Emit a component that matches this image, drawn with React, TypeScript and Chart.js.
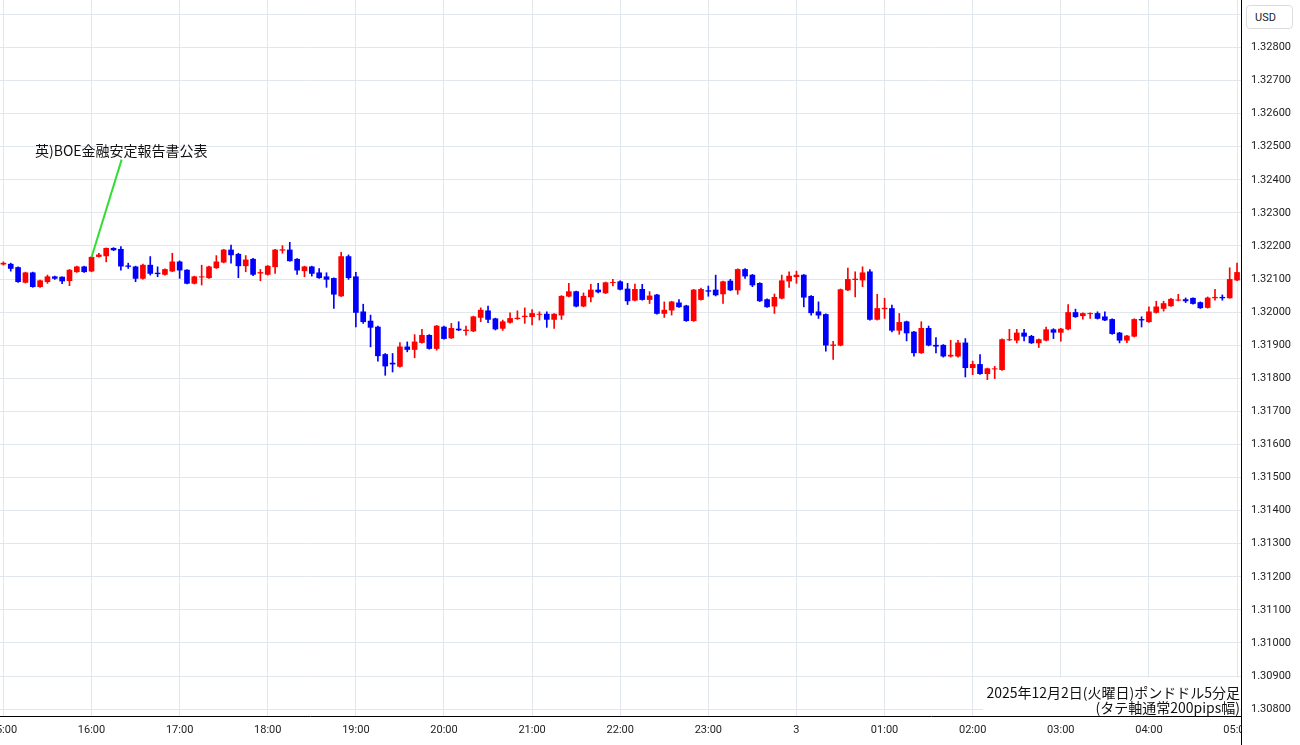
import React, { useEffect, useRef } from 'react';
import { Chart, registerables } from 'chart.js';

Chart.register(...registerables);

// GBP/USD 5-minute candles, 2025-12-02 15:00 .. 2025-12-03 05:00 (index 0 = 15:00)
const opens = [
  1.32145, 1.32145, 1.32135, 1.32090, 1.32119, 1.32077, 1.32092, 1.32107, 1.32106, 1.32095,
  1.32122, 1.32137, 1.32124, 1.32168, 1.32170, 1.32193, 1.32190, 1.32140, 1.32137, 1.32102,
  1.32142, 1.32118, 1.32114, 1.32124, 1.32152, 1.32127, 1.32087, 1.32106, 1.32104, 1.32134,
  1.32151, 1.32188, 1.32175, 1.32140, 1.32160, 1.32118, 1.32114, 1.32137, 1.32187, 1.32188,
  1.32160, 1.32125, 1.32137, 1.32119, 1.32107, 1.32102, 1.32049, 1.32168, 1.32107, 1.32001,
  1.31973, 1.31955, 1.31872, 1.31846, 1.31836, 1.31895, 1.31887, 1.31908, 1.31930, 1.31890,
  1.31955, 1.31922, 1.31949, 1.31944, 1.31943, 1.31984, 1.32004, 1.31980, 1.31951, 1.31969,
  1.31980, 1.31986, 1.31986, 1.31993, 1.31994, 1.31978, 1.31991, 1.32048, 1.32062, 1.32018,
  1.32046, 1.32067, 1.32058, 1.32089, 1.32092, 1.32070, 1.32036, 1.32069, 1.32038, 1.32052,
  1.31996, 1.32006, 1.32028, 1.32019, 1.31974, 1.32038, 1.32065, 1.32067, 1.32055, 1.32094,
  1.32067, 1.32129, 1.32112, 1.32087, 1.32038, 1.32018, 1.32042, 1.32094, 1.32107, 1.32112,
  1.32048, 1.32001, 1.31993, 1.31899, 1.31900, 1.32067, 1.32098, 1.32097, 1.32122, 1.31978,
  1.32010, 1.32011, 1.31945, 1.31971, 1.31940, 1.31877, 1.31951, 1.31900, 1.31900, 1.31867,
  1.31867, 1.31907, 1.31832, 1.31842, 1.31814, 1.31828, 1.31826, 1.31916, 1.31915, 1.31937,
  1.31927, 1.31907, 1.31915, 1.31947, 1.31939, 1.31949, 1.31999, 1.31989, 1.31995, 1.31996,
  1.31986, 1.31978, 1.31937, 1.31915, 1.31927, 1.31978, 1.31971, 1.31999, 1.32011, 1.32019,
  1.32036, 1.32038, 1.32042, 1.32029, 1.32014, 1.32043, 1.32045, 1.32043, 1.32097,
];
const highs = [
  1.32152, 1.32148, 1.32137, 1.32121, 1.32121, 1.32097, 1.32112, 1.32109, 1.32107, 1.32129,
  1.32139, 1.32139, 1.32168, 1.32178, 1.32194, 1.32195, 1.32198, 1.32148, 1.32139, 1.32145,
  1.32168, 1.32137, 1.32131, 1.32178, 1.32155, 1.32129, 1.32109, 1.32142, 1.32139, 1.32171,
  1.32190, 1.32203, 1.32178, 1.32171, 1.32163, 1.32129, 1.32141, 1.32190, 1.32201, 1.32211,
  1.32162, 1.32139, 1.32139, 1.32132, 1.32119, 1.32104, 1.32181, 1.32173, 1.32120, 1.32024,
  1.31991, 1.31958, 1.31875, 1.31875, 1.31908, 1.31910, 1.31932, 1.31948, 1.31932, 1.31960,
  1.31958, 1.31966, 1.31971, 1.31958, 1.31988, 1.32013, 1.32018, 1.31982, 1.31976, 1.31998,
  1.32004, 1.32013, 1.32008, 1.32001, 1.32001, 1.31996, 1.32050, 1.32087, 1.32064, 1.32058,
  1.32084, 1.32087, 1.32091, 1.32099, 1.32095, 1.32087, 1.32085, 1.32084, 1.32062, 1.32054,
  1.32031, 1.32033, 1.32038, 1.32021, 1.32069, 1.32073, 1.32079, 1.32112, 1.32094, 1.32099,
  1.32131, 1.32132, 1.32114, 1.32089, 1.32040, 1.32055, 1.32112, 1.32122, 1.32124, 1.32114,
  1.32050, 1.32031, 1.31995, 1.31912, 1.32070, 1.32133, 1.32122, 1.32137, 1.32129, 1.32054,
  1.32042, 1.32021, 1.31996, 1.31973, 1.31942, 1.31971, 1.31958, 1.31923, 1.31902, 1.31915,
  1.31915, 1.31920, 1.31852, 1.31872, 1.31831, 1.31836, 1.31919, 1.31948, 1.31948, 1.31948,
  1.31930, 1.31919, 1.31955, 1.31950, 1.31951, 1.32023, 1.32009, 1.31998, 1.31998, 1.32001,
  1.32001, 1.31980, 1.31939, 1.31930, 1.31980, 1.31986, 1.32016, 1.32033, 1.32033, 1.32042,
  1.32054, 1.32043, 1.32043, 1.32031, 1.32046, 1.32069, 1.32052, 1.32134, 1.32148,
];
const lows = [
  1.32142, 1.32124, 1.32090, 1.32088, 1.32075, 1.32075, 1.32087, 1.32099, 1.32086, 1.32080,
  1.32120, 1.32120, 1.32122, 1.32166, 1.32152, 1.32186, 1.32127, 1.32132, 1.32092, 1.32100,
  1.32112, 1.32107, 1.32112, 1.32122, 1.32102, 1.32085, 1.32085, 1.32082, 1.32102, 1.32132,
  1.32149, 1.32148, 1.32104, 1.32122, 1.32110, 1.32095, 1.32112, 1.32117, 1.32178, 1.32154,
  1.32114, 1.32107, 1.32109, 1.32102, 1.32075, 1.32011, 1.32047, 1.32099, 1.31955, 1.31966,
  1.31895, 1.31852, 1.31809, 1.31819, 1.31834, 1.31880, 1.31862, 1.31906, 1.31888, 1.31885,
  1.31918, 1.31920, 1.31944, 1.31930, 1.31941, 1.31971, 1.31968, 1.31946, 1.31945, 1.31967,
  1.31978, 1.31966, 1.31961, 1.31976, 1.31954, 1.31951, 1.31978, 1.32046, 1.32016, 1.32016,
  1.32031, 1.32058, 1.32056, 1.32079, 1.32067, 1.32023, 1.32034, 1.32036, 1.32026, 1.31994,
  1.31984, 1.31991, 1.32014, 1.31972, 1.31972, 1.32036, 1.32048, 1.32049, 1.32026, 1.32065,
  1.32054, 1.32102, 1.32077, 1.32032, 1.32014, 1.31996, 1.32040, 1.32075, 1.32087, 1.32016,
  1.31991, 1.31981, 1.31882, 1.31857, 1.31898, 1.32065, 1.32046, 1.32077, 1.31976, 1.31976,
  1.31981, 1.31940, 1.31933, 1.31913, 1.31867, 1.31875, 1.31898, 1.31877, 1.31864, 1.31864,
  1.31864, 1.31804, 1.31811, 1.31812, 1.31796, 1.31799, 1.31824, 1.31914, 1.31907, 1.31913,
  1.31905, 1.31893, 1.31913, 1.31920, 1.31912, 1.31946, 1.31984, 1.31979, 1.31981, 1.31979,
  1.31974, 1.31933, 1.31907, 1.31908, 1.31925, 1.31955, 1.31969, 1.31997, 1.32003, 1.32017,
  1.32034, 1.32029, 1.32024, 1.32011, 1.32012, 1.32036, 1.32036, 1.32042, 1.32095,
];
const closes = [
  1.32148, 1.32132, 1.32092, 1.32119, 1.32077, 1.32095, 1.32107, 1.32102, 1.32094, 1.32127,
  1.32137, 1.32122, 1.32166, 1.32173, 1.32193, 1.32188, 1.32139, 1.32138, 1.32102, 1.32142,
  1.32117, 1.32116, 1.32129, 1.32152, 1.32127, 1.32087, 1.32107, 1.32107, 1.32137, 1.32152,
  1.32188, 1.32173, 1.32140, 1.32158, 1.32114, 1.32120, 1.32139, 1.32188, 1.32189, 1.32155,
  1.32127, 1.32137, 1.32117, 1.32104, 1.32099, 1.32054, 1.32168, 1.32104, 1.31999, 1.31971,
  1.31954, 1.31868, 1.31837, 1.31843, 1.31895, 1.31887, 1.31910, 1.31930, 1.31890, 1.31958,
  1.31920, 1.31951, 1.31946, 1.31946, 1.31986, 1.32006, 1.31978, 1.31949, 1.31971, 1.31981,
  1.31982, 1.31988, 1.31996, 1.31994, 1.31978, 1.31994, 1.32048, 1.32062, 1.32018, 1.32048,
  1.32067, 1.32061, 1.32089, 1.32090, 1.32069, 1.32034, 1.32069, 1.32038, 1.32049, 1.31996,
  1.32006, 1.32031, 1.32016, 1.31974, 1.32067, 1.32069, 1.32063, 1.32052, 1.32092, 1.32067,
  1.32129, 1.32109, 1.32082, 1.32034, 1.32016, 1.32045, 1.32095, 1.32109, 1.32112, 1.32045,
  1.31998, 1.31991, 1.31900, 1.31901, 1.32068, 1.32099, 1.32100, 1.32119, 1.31978, 1.32011,
  1.32012, 1.31945, 1.31969, 1.31937, 1.31877, 1.31951, 1.31900, 1.31897, 1.31867, 1.31870,
  1.31907, 1.31832, 1.31842, 1.31814, 1.31829, 1.31829, 1.31917, 1.31917, 1.31937, 1.31927,
  1.31907, 1.31917, 1.31947, 1.31939, 1.31949, 1.31999, 1.31986, 1.31996, 1.31996, 1.31981,
  1.31976, 1.31935, 1.31915, 1.31928, 1.31978, 1.31976, 1.32001, 1.32016, 1.32026, 1.32039,
  1.32037, 1.32034, 1.32026, 1.32013, 1.32043, 1.32045, 1.32043, 1.32099, 1.32120,
];

const hourTickIndex = [0, 12, 24, 36, 48, 60, 72, 84, 96, 108, 120, 132, 144, 156, 168];
const hourTickLabels = [
  '15:00', '16:00', '17:00', '18:00', '19:00', '20:00', '21:00', '22:00',
  '23:00', '3', '01:00', '02:00', '03:00', '04:00', '05:00',
];
const priceTicks = [
  1.308, 1.309, 1.31, 1.311, 1.312, 1.313, 1.314, 1.315, 1.316, 1.317, 1.318,
  1.319, 1.32, 1.321, 1.322, 1.323, 1.324, 1.325, 1.326, 1.327, 1.328, 1.329,
];

const annotationText = '英)BOE金融安定報告書公表';
const annotationCandle = 12; // 16:00 candle
const annotationAnchor = { x: 16.1, y: 1.32461 }; // where the leader meets the label
const captionLines = ['2025年12月2日(火曜日)ポンドドル5分足', '(タテ軸通常200pips幅)'];
const currencyLabel = 'USD';

const UP = '#ff0000';
const DOWN = '#0000ff';
const GRID = '#e2e7ed';

export default function App() {
  const ref = useRef<HTMLCanvasElement | null>(null);

  useEffect(() => {
    if (!ref.current) return;
    const colors = opens.map((o, i) => (closes[i] >= o ? UP : DOWN));
    const bodies = opens.map((o, i) => ({ x: i, y: [o, closes[i]] }));
    const wicks = lows.map((l, i) => ({ x: i, y: [l, highs[i]] }));
    const leader = [
      { x: annotationCandle, y: Math.max(opens[annotationCandle], closes[annotationCandle]) },
      annotationAnchor,
    ];

    const edgePlugin = {
      id: 'edge',
      afterDraw(chart: any) {
        const { ctx, chartArea } = chart;
        const x = Math.round(chartArea.right) + 0.5;
        ctx.save();
        ctx.fillStyle = '#ffffff';
        ctx.fillRect(x + 0.5, chartArea.bottom + 1, chart.width - x, chart.height - chartArea.bottom);
        ctx.strokeStyle = '#000000';
        ctx.lineWidth = 1;
        ctx.beginPath();
        ctx.moveTo(x, 0);
        ctx.lineTo(x, chart.height);
        ctx.stroke();
        ctx.restore();
      },
    };

    const noPad = (s: any) => {
      s.paddingLeft = 0;
      s.paddingRight = 0;
      s.paddingTop = 0;
      s.paddingBottom = 0;
    };

    const tickFont = { family: 'Roboto', size: 11 };
    const chart = new Chart(ref.current, {
      type: 'bar',
      data: {
        datasets: [
          {
            type: 'line',
            data: leader,
            borderColor: '#33dd33',
            borderWidth: 2,
            pointRadius: 0,
            order: -1,
          } as any,
          {
            data: bodies as any,
            backgroundColor: colors,
            borderWidth: 0,
            barThickness: 5,
            grouped: false,
            order: 0,
          },
          {
            data: wicks as any,
            backgroundColor: colors,
            borderWidth: 0,
            barThickness: 1,
            grouped: false,
            order: 1,
          },
        ],
      },
      options: {
        responsive: false,
        animation: false,
        events: [],
        layout: { padding: 0 },
        plugins: { legend: { display: false }, tooltip: { enabled: false } },
        scales: {
          x: {
            type: 'linear',
            min: -0.463,
            max: 168.54,
            offset: false,
            afterBuildTicks: (s: any) => {
              s.ticks = hourTickIndex.map((v) => ({ value: v }));
            },
            afterFit: (s: any) => {
              s.height = 29;
              noPad(s);
            },
            grid: { color: GRID, drawTicks: false, offset: false },
            border: { color: '#000', width: 1 },
            ticks: {
              autoSkip: false,
              maxRotation: 0,
              padding: 8,
              font: tickFont,
              color: '#222',
              callback: (v: any) => hourTickLabels[hourTickIndex.indexOf(Number(v))] ?? '',
            },
          },
          y: {
            type: 'linear',
            position: 'right',
            min: 1.307791,
            max: 1.329436,
            afterBuildTicks: (s: any) => {
              s.ticks = priceTicks.map((v) => ({ value: v }));
            },
            afterFit: (s: any) => {
              s.width = 59;
              noPad(s);
            },
            grid: { color: GRID, drawTicks: false, offset: false },
            border: { color: '#000', width: 1 },
            ticks: {
              padding: 10,
              font: tickFont,
              color: '#222',
              callback: (v: any) => Number(v).toFixed(5),
            },
          },
        },
      } as any,
      plugins: [edgePlugin],
    });
    return () => chart.destroy();
  }, []);

  return (
    <div
      style={{
        position: 'absolute',
        left: 0,
        top: 0,
        width: 1300,
        height: 745,
        background: '#fff',
        overflow: 'hidden',
      }}
    >
      <canvas ref={ref} width={1300} height={745} style={{ display: 'block', width: 1300, height: 745 }} />
      <div
        style={{
          position: 'absolute',
          left: 35,
          top: 142,
          fontFamily: '"Noto Sans CJK JP", sans-serif',
          fontSize: 14,
          lineHeight: '16px',
          color: '#111',
          whiteSpace: 'nowrap',
        }}
      >
        {annotationText}
      </div>
      <div
        style={{
          position: 'absolute',
          left: 1246,
          top: 5,
          width: 47,
          height: 24,
          boxSizing: 'border-box',
          border: '1px solid #dcdcdc',
          borderRadius: 4,
          background: '#fff',
          fontFamily: 'Roboto, sans-serif',
          fontSize: 11,
          color: '#222',
          display: 'flex',
          alignItems: 'center',
          paddingLeft: 8,
        }}
      >
        {currencyLabel}
      </div>
      <div
        style={{
          position: 'absolute',
          right: 60,
          top: 678,
          height: 38,
          boxSizing: 'border-box',
          paddingTop: 7,
          paddingLeft: 3,
          background: '#fff',
          textAlign: 'right',
          fontFamily: '"Noto Sans CJK JP", sans-serif',
          fontSize: 14,
          lineHeight: '15px',
          color: '#111',
          whiteSpace: 'nowrap',
        }}
      >
        {captionLines.map((t) => (
          <div key={t}>{t}</div>
        ))}
      </div>
    </div>
  );
}
